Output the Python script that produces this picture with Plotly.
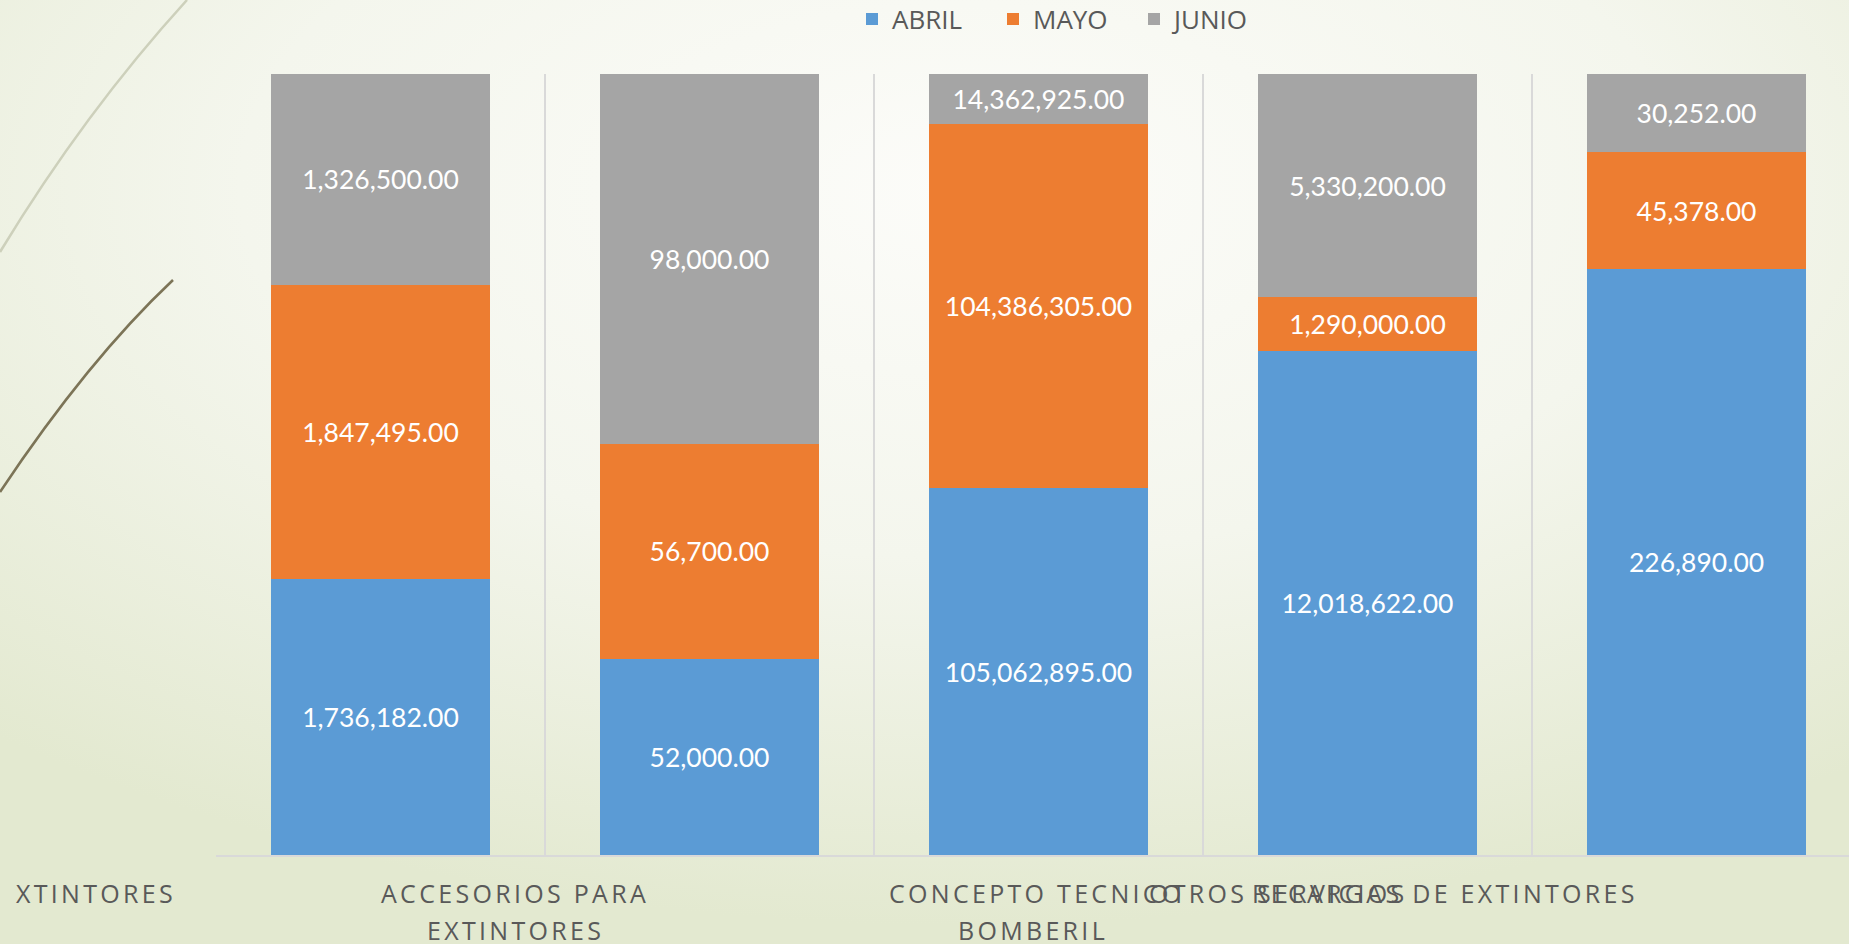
import base64
import plotly.graph_objects as go

# ---------------- data ----------------
categories = ["EXTINTORES", "ACCESORIOS PARA EXTINTORES", "CONCEPTO TECNICO BOMBERIL",
              "OTROS SERVICIOS", "RECARGAS DE EXTINTORES"]
series_names = ["ABRIL", "MAYO", "JUNIO"]
abril = [1736182.00, 52000.00, 105062895.00, 12018622.00, 226890.00]
mayo = [1847495.00, 56700.00, 104386305.00, 1290000.00, 45378.00]
junio = [1326500.00, 98000.00, 14362925.00, 5330200.00, 30252.00]
colors = ["#5B9BD5", "#ED7D31", "#A5A5A5"]

# category label lines as they appear under the axis (the first one is cut by the slide edge)
label_text = ["XTINTORES", "ACCESORIOS PARA", "EXTINTORES", "CONCEPTO TECNICO", "BOMBERIL",
              "OTROS SERVICIOS", "RECARGAS DE EXTINTORES"]

# ---------------- layout geometry (pixels) ----------------
W, H = 1849, 944
L, T, B = 216, 74, 89
cat_px = 329.0
plot_w = W - L
plot_h = H - T - B
label_x = [14, 515, 515, 887, 1033, 1147, 1640]
label_anchor = ["left", "center", "center", "left", "center", "left", "right"]
label_y = [893, 893, 930, 893, 930, 893, 893]

fig = go.Figure()
for name, vals, col in zip(series_names, [abril, mayo, junio], colors):
    fig.add_trace(go.Bar(
        name=name, x=categories, y=vals,
        marker=dict(color=col, line=dict(width=0)),
        text=[f"{v:,.2f}" for v in vals],
        textposition="inside", insidetextanchor="middle", textangle=0,
        textfont=dict(family="Lato, Open Sans, sans-serif", size=26.5, color="white"),
        hoverinfo="skip",
    ))

# slide background as svg image
svg = f'''<svg xmlns="http://www.w3.org/2000/svg" width="{W}" height="{H}" viewBox="0 0 {W} {H}" preserveAspectRatio="none">
<defs><radialGradient id="g" cx="0.52" cy="0.2" r="0.78">
<stop offset="0" stop-color="#fcfcf9"/><stop offset="0.5" stop-color="#f4f6ed"/>
<stop offset="1" stop-color="#e3e9d0"/></radialGradient></defs>
<rect width="{W}" height="{H}" fill="url(#g)"/>
<path d="M187,0 Q85,112 0,252" fill="none" stroke="#cdd0bb" stroke-width="2.5"/>
<path d="M173,280 Q88,360 0,492" fill="none" stroke="#7c7457" stroke-width="2.6"/>
</svg>'''
src = "data:image/svg+xml;base64," + base64.b64encode(svg.encode()).decode()

annotations = []
for txt, px, anc, py in zip(label_text, label_x, label_anchor, label_y):
    annotations.append(dict(
        text=f"<span style='letter-spacing:3.3px'>{txt}</span>",
        x=(px - L) / plot_w, xref="paper", xanchor=anc,
        y=0, yref="paper", yanchor="middle", yshift=-(py - (H - B)),
        showarrow=False, align="center",
        font=dict(family="Open Sans, sans-serif", size=25, color="#595959"),
    ))

fig.update_layout(
    width=W, height=H,
    margin=dict(l=L, r=0, t=T, b=B, pad=0, autoexpand=False),
    barmode="stack", barnorm="percent", bargap=1 - 219 / cat_px,
    paper_bgcolor="#f2f5ea", plot_bgcolor="rgba(0,0,0,0)",
    images=[dict(source=src, xref="paper", yref="paper",
                 x=-L / plot_w, y=1 + T / plot_h, sizex=W / plot_w, sizey=H / plot_h,
                 xanchor="left", yanchor="top", sizing="stretch", layer="below")],
    xaxis=dict(type="category", range=[-0.5, -0.5 + plot_w / cat_px],
               tickson="boundaries", showgrid=True, gridcolor="#d9d9d9", gridwidth=2,
               showline=True, linecolor="#d9d9d9", linewidth=2,
               showticklabels=False, ticks="", zeroline=False),
    yaxis=dict(range=[0, 100], showgrid=False, showticklabels=False, zeroline=False,
               showline=False, ticks=""),
    legend=dict(orientation="h", x=(852 - L) / plot_w, xanchor="left",
                y=1 + (T - 19) / plot_h, yanchor="middle",
                font=dict(family="Open Sans, sans-serif", size=26, color="#595959"),
                entrywidth=96, entrywidthmode="pixels", traceorder="normal",
                bgcolor="rgba(0,0,0,0)"),
    annotations=annotations,
    showlegend=True,
)

fig.write_html("out.html", config={"displayModeBar": False},
               post_script="document.body.style.margin='0';")
